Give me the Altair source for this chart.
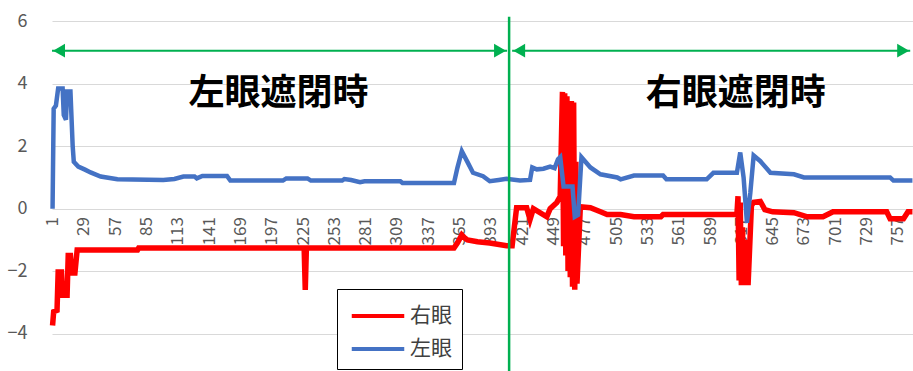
import altair as alt
import pandas as pd

# ---- data ----
series_names = ["右眼", "左眼"]
series_colors = ["#ff0000", "#4472c4"]

right_x = [1, 2, 5, 6, 9, 10, 14, 15, 17, 18, 21, 23, 77, 78, 226, 227, 228, 360, 363, 367, 370, 372,
           381, 392, 407, 412, 416, 425, 428, 431, 443, 446, 452, 455, 457, 458, 459, 460, 461, 462,
           463, 464, 465, 466, 467, 468, 469, 470, 473, 482,
           491, 497, 509, 521, 545, 547, 613, 614, 615, 616, 617, 618, 619, 620, 621, 622, 623, 626,
           628, 634, 638, 645, 664, 676, 690, 699, 747, 750, 762, 766, 770]
right_y = [-3.74, -3.3, -3.26, -2.03, -2.03, -2.77, -2.77, -1.5, -1.5, -2.06, -2.06, -1.32, -1.32, -1.26,
           -1.26, -2.6, -1.26, -1.26, -1.1, -0.84, -0.95, -1.0, -1.06, -1.1, -1.19, -1.19, 0.03, 0.03,
           -0.35, 0.0, -0.26, 0.0, 0.2, 0.4, 3.74, -1.2, 3.7, -1.5, 3.6, -2.0, 3.45, -2.2, 3.45, -2.5,
           3.4, -2.6, 1.5, -2.4, 0.06, 0.03,
           -0.1, -0.19, -0.19, -0.26, -0.26, -0.19, -0.19, 0.4, -2.3, 0.2, -2.45, -0.6, -2.45, -1.0,
           -2.45, -1.6, -2.45, 0.1, 0.2, 0.23, -0.03, -0.1, -0.13, -0.26, -0.26, -0.1, -0.1, -0.32,
           -0.32, -0.1, -0.1]

left_x = [1, 2, 4, 6, 10, 11, 13, 14, 17, 19, 20, 24, 30, 35, 44, 59, 100, 110, 118, 128, 130, 135, 157,
          160, 207, 210, 229, 232, 260, 262, 268, 276, 280, 312, 314, 360, 363, 367, 372, 377, 386, 392,
          400, 407, 419, 428, 430, 434, 440, 446, 450, 453, 455, 458, 466, 468, 471, 474, 482, 491, 506,
          509, 521, 547, 550, 586, 592, 613, 616, 619, 622, 625, 628, 634, 643, 664, 673, 750, 753, 770]
left_y = [0.0, 3.2, 3.3, 3.85, 3.85, 3.0, 2.85, 3.75, 3.75, 2.0, 1.5, 1.35, 1.25, 1.16, 1.03, 0.94, 0.92,
          0.95, 1.03, 1.03, 0.97, 1.05, 1.05, 0.9, 0.9, 0.97, 0.97, 0.9, 0.9, 0.95, 0.92, 0.85, 0.88,
          0.88, 0.82, 0.82, 1.3, 1.84, 1.5, 1.15, 1.04, 0.88, 0.92, 0.96, 0.9, 0.92, 1.32, 1.26, 1.28,
          1.35, 1.3, 1.58, 1.65, 0.71, 0.71, -0.26, -0.2, 1.65, 1.32, 1.1, 1.0, 0.94, 1.06, 1.06, 0.94,
          0.94, 1.15, 1.15, 1.8, 1.0, -0.45, 0.5, 1.7, 1.52, 1.15, 1.1, 1.0, 1.0, 0.9, 0.9]

x_tick_labels = [1, 29, 57, 85, 113, 141, 169, 197, 225, 253, 281, 309, 337, 365, 393, 421, 449,
                 477, 505, 533, 561, 589, 617, 645, 673, 701, 729, 757]
y_tick_labels = [-4, -2, 0, 2, 4, 6]

# annotations
divider_x = [409.3]
divider_y = [6.15]
divider_y2 = [-5.2]
arrow_start = [0.5, 412]
arrow_end = [407.5, 768]
arrow_level = [5.06, 5.06]
head_left_x = [6.8, 418.3]
head_right_x = [401.2, 761.7]
label_texts = ["左眼遮閉時", "右眼遮閉時"]
label_x = [203, 612]
label_y = [3.66, 3.66]

# ---- tables ----
lines_df = pd.concat([
    pd.DataFrame({"x": right_x, "y": right_y, "series": series_names[0]}),
    pd.DataFrame({"x": left_x, "y": left_y, "series": series_names[1]}),
], ignore_index=True)
divider_df = pd.DataFrame({"x": divider_x, "y": divider_y, "y2": divider_y2})
arrow_df = pd.DataFrame({"x": arrow_start, "x2": arrow_end, "y": arrow_level})
hl_df = pd.DataFrame({"x": head_left_x, "y": arrow_level})
hr_df = pd.DataFrame({"x": head_right_x, "y": arrow_level})
text_df = pd.DataFrame({"x": label_x, "y": label_y, "t": label_texts})

FONT = "Noto Sans CJK JP"
GREEN = "#00b050"

xscale = alt.Scale(domain=[0.5, 770.5], nice=False, zero=False)
yscale = alt.Scale(domain=[-5.2, 6.3], nice=False, zero=False)

W, H = 861, 359
zero_offset = -(H * (5.2 / 11.5))

x_axis = alt.Axis(values=x_tick_labels, labelAngle=270, grid=False, ticks=False, domain=False,
                  offset=zero_offset, labelPadding=8, labelFontSize=17, labelColor="#595959",
                  labelFont=FONT, title=None, labelOverlap=False, labelFlush=False, labelBound=False)
y_axis = alt.Axis(values=y_tick_labels, grid=True, gridColor="#d9d9d9", gridWidth=1, ticks=False,
                  domain=False, labelPadding=25, labelFontSize=18, labelColor="#595959",
                  labelFont=FONT, title=None)

X = alt.X("x:Q", scale=xscale, axis=x_axis)
Y = alt.Y("y:Q", scale=yscale, axis=y_axis)

color_scale = alt.Scale(domain=series_names, range=series_colors)
legend = alt.Legend(title=None, orient="none", legendX=285, legendY=277, strokeColor="black",
                    fillColor="white", padding=10, labelFontSize=21, labelColor="#404040",
                    labelFont=FONT, symbolType="M-1.75,0H1.75", symbolSize=900, symbolStrokeWidth=4,
                    symbolOffset=14, labelOffset=15, rowPadding=6)

base_lines = alt.Chart(lines_df)
red_line = base_lines.transform_filter(alt.datum.series == series_names[0]).mark_line(
    strokeWidth=5.5, strokeJoin="miter").encode(
    x=X, y=Y, color=alt.Color("series:N", scale=color_scale, legend=legend))
blue_line = base_lines.transform_filter(alt.datum.series == series_names[1]).mark_line(
    strokeWidth=4.5).encode(
    x=X, y=Y, color=alt.Color("series:N", scale=color_scale, legend=legend))

divider = alt.Chart(divider_df).mark_rule(color=GREEN, strokeWidth=2.5).encode(
    x=X, y=Y, y2="y2:Q")
arrows = alt.Chart(arrow_df).mark_rule(color=GREEN, strokeWidth=2).encode(
    x=X, x2="x2:Q", y=Y)
heads_l = alt.Chart(hl_df).mark_point(shape="triangle-left", filled=True, color=GREEN, size=190,
                                      opacity=1).encode(x=X, y=Y)
heads_r = alt.Chart(hr_df).mark_point(shape="triangle-right", filled=True, color=GREEN, size=190,
                                      opacity=1).encode(x=X, y=Y)
texts = alt.Chart(text_df).mark_text(font=FONT, fontSize=36, fontWeight="bold", color="black",
                                     align="center", baseline="middle").encode(
    x=X, y=Y, text="t:N")

chart = alt.layer(red_line, blue_line, divider, arrows, heads_l, heads_r, texts).properties(
    width=W, height=H,
    autosize=alt.AutoSizeParams(type="none"),
    padding={"left": 52, "top": 12, "right": 0, "bottom": 0},
    background="white",
).configure_view(stroke=None).configure_axis(labelOverlap=False)

chart.save("out.html", embed_options={"renderer": "svg", "actions": False})
